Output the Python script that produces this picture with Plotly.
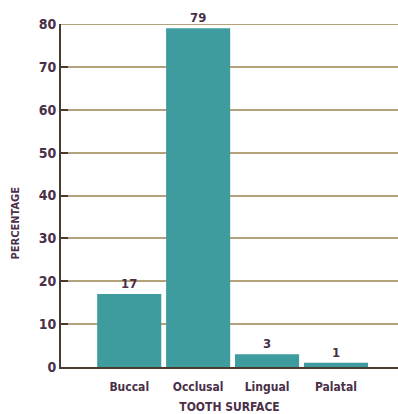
import plotly.graph_objects as go

surfaces = ["Buccal", "Occlusal", "Lingual", "Palatal"]
percentages = [17, 79, 3, 1]
y_ticks = [0, 10, 20, 30, 40, 50, 60, 70, 80]

text_color = "#4a3048"
bar_color = "#3f9c9e"
grid_color = "#b3a27c"
axis_color = "#4a3a30"
font_family = "DejaVu Sans Condensed, DejaVu Sans, sans-serif"

fig = go.Figure(
    go.Bar(
        x=surfaces,
        y=percentages,
        marker=dict(color=bar_color, line=dict(width=0)),
        text=[str(v) for v in percentages],
        textposition="outside",
        cliponaxis=False,
        textfont=dict(family=font_family, size=13, color=text_color, weight="bold"),
    )
)

fig.update_layout(
    width=398,
    height=414,
    margin=dict(l=61, r=0, t=24, b=47),
    paper_bgcolor="white",
    plot_bgcolor="white",
    showlegend=False,
    bargap=0.07,
    font=dict(family=font_family, size=11, color=text_color),
    xaxis=dict(
        range=[-0.99, 3.9],
        showline=True,
        linecolor=axis_color,
        linewidth=2,
        showgrid=False,
        ticks="",
        ticklabelstandoff=8,
        tickfont=dict(family=font_family, size=12, color=text_color, weight="bold"),
        title=dict(
            text="TOOTH SURFACE",
            font=dict(family=font_family, size=12, color=text_color, weight="bold"),
            standoff=10,
        ),
    ),
    yaxis=dict(
        range=[0, 80],
        tickvals=y_ticks,
        showline=True,
        linecolor=axis_color,
        linewidth=2,
        showgrid=True,
        gridcolor=grid_color,
        gridwidth=2,
        ticks="inside",
        ticklen=7,
        tickwidth=2,
        tickcolor=axis_color,
        zeroline=False,
        tickfont=dict(family=font_family, size=14, color=text_color, weight="bold"),
    ),
    shapes=[
        # gridline along the top of the value axis
        dict(
            type="line",
            xref="paper",
            yref="y",
            x0=0,
            x1=1,
            y0=y_ticks[-1],
            y1=y_ticks[-1],
            line=dict(color=grid_color, width=2),
            layer="below",
        )
    ],
    annotations=[
        dict(
            text="PERCENTAGE",
            textangle=-90,
            xref="paper",
            yref="paper",
            x=-0.135,
            xanchor="center",
            y=0.42,
            showarrow=False,
            font=dict(family=font_family, size=11, color=text_color, weight="bold"),
        )
    ],
)

fig.write_html("out.html")
